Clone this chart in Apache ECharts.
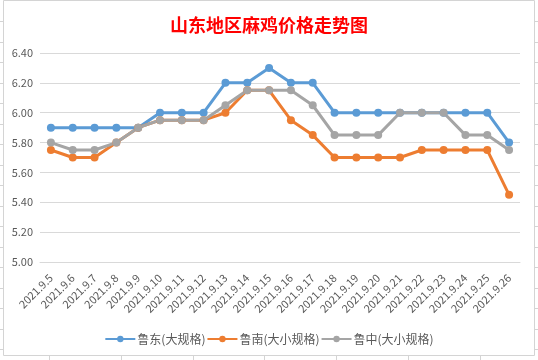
<!DOCTYPE html>
<html><head><meta charset="utf-8">
<script src="https://cdn.jsdelivr.net/npm/echarts@6/dist/echarts.min.js"></script>
<style>html,body{margin:0;padding:0;background:#fff}#c{width:538px;height:360px}</style>
</head><body><div id="c"></div>
<script>
const title = '山东地区麻鸡价格走势图';
const categories = ['2021.9.5','2021.9.6','2021.9.7','2021.9.8','2021.9.9','2021.9.10','2021.9.11','2021.9.12','2021.9.13','2021.9.14','2021.9.15','2021.9.16','2021.9.17','2021.9.18','2021.9.19','2021.9.20','2021.9.21','2021.9.22','2021.9.23','2021.9.24','2021.9.25','2021.9.26'];
const seriesNames = ['鲁东(大规格)','鲁南(大小规格)','鲁中(大小规格)'];
const ludong = [5.9,5.9,5.9,5.9,5.9,6.0,6.0,6.0,6.2,6.2,6.3,6.2,6.2,6.0,6.0,6.0,6.0,6.0,6.0,6.0,6.0,5.8];
const lunan  = [5.75,5.7,5.7,5.8,5.9,5.95,5.95,5.95,6.0,6.15,6.15,5.95,5.85,5.7,5.7,5.7,5.7,5.75,5.75,5.75,5.75,5.45];
const luzhong= [5.8,5.75,5.75,5.8,5.9,5.95,5.95,5.95,6.05,6.15,6.15,6.15,6.05,5.85,5.85,5.85,6.0,6.0,6.0,5.85,5.85,5.75];
const yMin = 5.0, yMax = 6.4, yStep = 0.2;
const colors = ['#5B9BD5','#ED7D31','#A5A5A5'];

// decorative spreadsheet cell borders around the chart frame
const sheet = [];
const lc = '#d4d4d4';
sheet.push({type:'rect',shape:{x:3.5,y:0.5,width:531,height:355},style:{fill:'#fff',stroke:lc,lineWidth:1},z:-10});
for (let k=0;k<17;k++){const y=Math.round(21+20.5*k)+0.5;
  sheet.push({type:'line',shape:{x1:0,y1:y,x2:3,y2:y},style:{stroke:lc},z:-10});
  sheet.push({type:'line',shape:{x1:535,y1:y,x2:538,y2:y},style:{stroke:lc},z:-10});}
for (let k=0;k<7;k++){const x=Math.round(49+71.8*k)+0.5;
  sheet.push({type:'line',shape:{x1:x,y1:356,x2:x,y2:360},style:{stroke:lc},z:-10});}

const font = '"Noto Sans CJK SC","Liberation Sans",sans-serif';
const chart = echarts.init(document.getElementById('c'));
chart.setOption({
  animation:false,
  backgroundColor:'#fff',
  color: colors,
  graphic: sheet,
  title:{text:title,left:'center',top:11,textStyle:{color:'#ff0000',fontSize:18,fontWeight:'bold',fontFamily:font}},
  grid:{left:40,right:18,top:53,bottom:98,containLabel:false},
  legend:{bottom:10,left:'center',itemWidth:30,itemHeight:8,itemGap:1,
    textStyle:{color:'#595959',fontSize:12,fontFamily:font,padding:[0,0,0,-3]},data:seriesNames},
  xAxis:{type:'category',data:categories,boundaryGap:true,
    axisLine:{show:true,lineStyle:{color:'#d9d9d9'}},axisTick:{show:false},
    axisLabel:{rotate:45,interval:0,margin:14,color:'#595959',fontSize:11,fontFamily:font}},
  yAxis:{type:'value',min:yMin,max:yMax,interval:yStep,
    axisLine:{show:false},axisTick:{show:false},
    splitLine:{lineStyle:{color:'#d9d9d9',width:1}},
    axisLabel:{color:'#595959',fontSize:11,margin:7,fontFamily:font,formatter:v=>v.toFixed(2)}},
  series:[ludong,lunan,luzhong].map((d,i)=>({
    name:seriesNames[i],type:'line',data:d,symbol:'circle',symbolSize:8,
    lineStyle:{width:3,color:colors[i]},itemStyle:{color:colors[i]}
  }))
});
</script></body></html>
